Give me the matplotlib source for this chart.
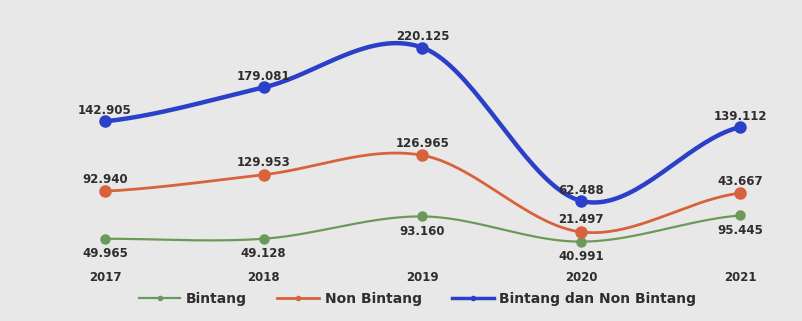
import numpy as np
import matplotlib
matplotlib.use("Agg")
import matplotlib.pyplot as plt
from matplotlib.lines import Line2D

# data (labels as printed, heights as drawn in the picture)
years = ["2017", "2018", "2019", "2020", "2021"]
bintang_lbl = ["49.965", "49.128", "93.160", "40.991", "95.445"]
non_bintang_lbl = ["92.940", "129.953", "126.965", "21.497", "43.667"]
total_lbl = ["142.905", "179.081", "220.125", "62.488", "139.112"]
bintang = [24, 24, 47, 21, 48]
non_bintang = [73, 90, 110, 31, 71]
total = [145, 180, 221, 63, 139]


def smooth(y, n=40):
    # catmull-rom style smoothing between points, for drawing only
    y = np.asarray(y, float)
    x = np.arange(len(y), dtype=float)
    p = np.concatenate([[y[0]], y, [y[-1]]])
    xs, ys = [], []
    for i in range(len(y) - 1):
        p0, p1, p2, p3 = p[i], p[i + 1], p[i + 2], p[i + 3]
        t = np.linspace(0, 1, n, endpoint=False)
        m1 = (p2 - p0) / 2
        m2 = (p3 - p1) / 2
        h00 = 2 * t**3 - 3 * t**2 + 1
        h10 = t**3 - 2 * t**2 + t
        h01 = -2 * t**3 + 3 * t**2
        h11 = t**3 - t**2
        xs.append(x[i] + t)
        ys.append(h00 * p1 + h10 * m1 + h01 * p2 + h11 * m2)
    xs.append([x[-1]])
    ys.append([y[-1]])
    return np.concatenate(xs), np.concatenate(ys)


fig = plt.figure(figsize=(8.03, 3.21), dpi=100)
fig.patch.set_facecolor("#e8e8e8")
ax = fig.add_axes([0, 0, 1, 1])
ax.set_facecolor("#e8e8e8")
ax.set_xlim(-0.661, 4.397)
ax.set_ylim(-60.8, 270.1)
ax.axis("off")

green = "#6b9a58"
orange = "#d8623b"
blue = "#2b40c8"
txt = "#2e2e2e"
fs = 8.5
idx = np.arange(len(years))

series = [
    (bintang, bintang_lbl, green, 1.6, 6.5, -6, "top"),
    (non_bintang, non_bintang_lbl, orange, 2.0, 8, 4, "bottom"),
    (total, total_lbl, blue, 3.2, 8, 3, "bottom"),
]
for vals, lbls, col, lw, ms, off, va in series:
    sx, sy = smooth(vals)
    ax.plot(sx, sy, color=col, lw=lw, solid_capstyle="round", zorder=2)
    ax.plot(idx, vals, "o", color=col, ms=ms, zorder=3)
    for i, (v, s) in enumerate(zip(vals, lbls)):
        ax.annotate(s, (i, v), xytext=(0, off), textcoords="offset points",
                    ha="center", va=va, fontsize=fs, fontweight="bold",
                    color=txt, zorder=4)

for i, y in enumerate(years):
    ax.text(i, -15.5, y, ha="center", va="center", fontsize=fs,
            fontweight="bold", color=txt)

handles = [
    Line2D([], [], color=green, lw=1.6, marker="o", ms=3),
    Line2D([], [], color=orange, lw=2.0, marker="o", ms=3),
    Line2D([], [], color=blue, lw=2.5, marker="o", ms=3),
]
leg = fig.legend(handles, ["Bintang", "Non Bintang", "Bintang dan Non Bintang"],
                 loc="center", bbox_to_anchor=(0.52, 0.068), ncol=3,
                 frameon=False, fontsize=10, handlelength=3.0,
                 columnspacing=2.2, handletextpad=0.4)
for t in leg.get_texts():
    t.set_fontweight("bold")
    t.set_color(txt)

fig.savefig("out.png", dpi=100, facecolor=fig.get_facecolor())
